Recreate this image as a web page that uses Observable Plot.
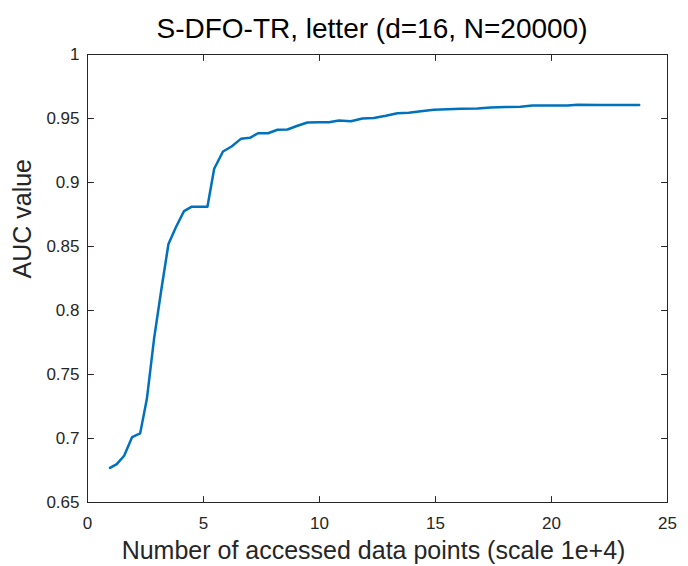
<!DOCTYPE html>
<html>
<head>
<meta charset="utf-8">
<script src="https://cdn.jsdelivr.net/npm/d3@7"></script>
<script src="https://cdn.jsdelivr.net/npm/@observablehq/plot@0.6"></script>
<style>
  html, body { margin: 0; padding: 0; background: #ffffff; }
  #wrap { width: 688px; }
  #title {
    width: 688px; height: 46px; box-sizing: border-box;
    padding-top: 15px; padding-left: 56px;
    font-family: "Liberation Sans", Arial, sans-serif;
    font-size: 28px; line-height: 28px; text-align: center;
    color: #000000; white-space: nowrap;
  }
</style>
</head>
<body>
<div id="wrap">
  <div id="title">S-DFO-TR, letter (d=16, N=20000)</div>
  <div id="chart"></div>
</div>
<script>
const titleText = "S-DFO-TR, letter (d=16, N=20000)";
const xLabel = "Number of accessed data points (scale 1e+4)";
const yLabel = "AUC value";

const xTicks = [0, 5, 10, 15, 20, 25];
const yTicks = [0.65, 0.7, 0.75, 0.8, 0.85, 0.9, 0.95, 1];

const accessedPoints = [
  0.97, 1.26, 1.58, 1.92, 2.27, 2.56, 2.87, 3.18, 3.49, 3.81,
  4.16, 4.48, 4.83, 5.17, 5.46, 5.84, 6.21, 6.61, 7.00, 7.35,
  7.78, 8.19, 8.62, 9.05, 9.48, 9.98, 10.41, 10.84, 11.35, 11.85,
  12.34, 12.86, 13.36, 13.85, 14.37, 14.93, 15.52, 16.09, 16.81, 17.38,
  18.03, 18.66, 19.18, 19.88, 20.69, 21.12, 22.10, 22.97, 23.78
];
const aucValues = [
  0.677, 0.680, 0.6865, 0.701, 0.704, 0.731, 0.778, 0.816, 0.852, 0.865,
  0.8776, 0.881, 0.881, 0.881, 0.9107, 0.9242, 0.9281, 0.9341, 0.9349, 0.9385,
  0.9385, 0.9412, 0.9414, 0.9443, 0.9469, 0.9471, 0.9470, 0.9484, 0.9479, 0.9500,
  0.9504, 0.9521, 0.9541, 0.9545, 0.9557, 0.9568, 0.9573, 0.9576, 0.9578, 0.9586,
  0.9590, 0.9592, 0.9602, 0.9602, 0.9602, 0.9607, 0.9606, 0.9605, 0.9605
];

document.getElementById("title").textContent = titleText;

const data = accessedPoints.map((x, i) => ({x, y: aucValues[i]}));
const axisColor = "#262626";
const fmt = d3.format("~g");

// a plain tick segment drawn by Plot.vector (pointing "up" before rotation)
const tickShape = {draw(context, l) { context.moveTo(0, 0); context.lineTo(0, -l); }};
const tickOpts = {length: 6, anchor: "start", shape: tickShape, stroke: axisColor, strokeWidth: 1};

const chart = Plot.plot({
  width: 688,
  height: 520,
  marginLeft: 87,
  marginRight: 21,
  marginTop: 8,
  marginBottom: 64,
  style: {
    fontFamily: "Liberation Sans, Arial, sans-serif",
    fontSize: "17px",
    color: axisColor,
    background: "#ffffff"
  },
  x: {domain: [0, 25]},
  y: {domain: [0.65, 1]},
  marks: [
    Plot.line(data, {x: "x", y: "y", stroke: "#0072BD", strokeWidth: 2.5}),
    // tick labels
    Plot.axisX(xTicks, {anchor: "bottom", tickSize: 0, tickPadding: 14, tickFormat: fmt, label: null, fontSize: 17, fill: axisColor}),
    Plot.axisY(yTicks, {anchor: "left", tickSize: 0, tickPadding: 8, tickFormat: fmt, label: null, fontSize: 17, fill: axisColor}),
    // inward ticks on all four sides
    Plot.vector(xTicks, {x: d => d, frameAnchor: "bottom", rotate: 0, ...tickOpts}),
    Plot.vector(xTicks, {x: d => d, frameAnchor: "top", rotate: 180, ...tickOpts}),
    Plot.vector(yTicks, {y: d => d, frameAnchor: "left", rotate: 90, ...tickOpts}),
    Plot.vector(yTicks, {y: d => d, frameAnchor: "right", rotate: -90, ...tickOpts}),
    Plot.frame({stroke: axisColor, strokeWidth: 1}),
    // axis titles
    Plot.text([xLabel], {text: d => d, frameAnchor: "bottom", lineAnchor: "bottom", dy: 56, dx: -4, fontSize: 25, fill: axisColor}),
    Plot.text([yLabel], {text: d => d, frameAnchor: "left", rotate: -90, lineAnchor: "middle", dx: -65, fontSize: 25, fill: axisColor})
  ]
});
document.getElementById("chart").appendChild(chart);
</script>
</body>
</html>
